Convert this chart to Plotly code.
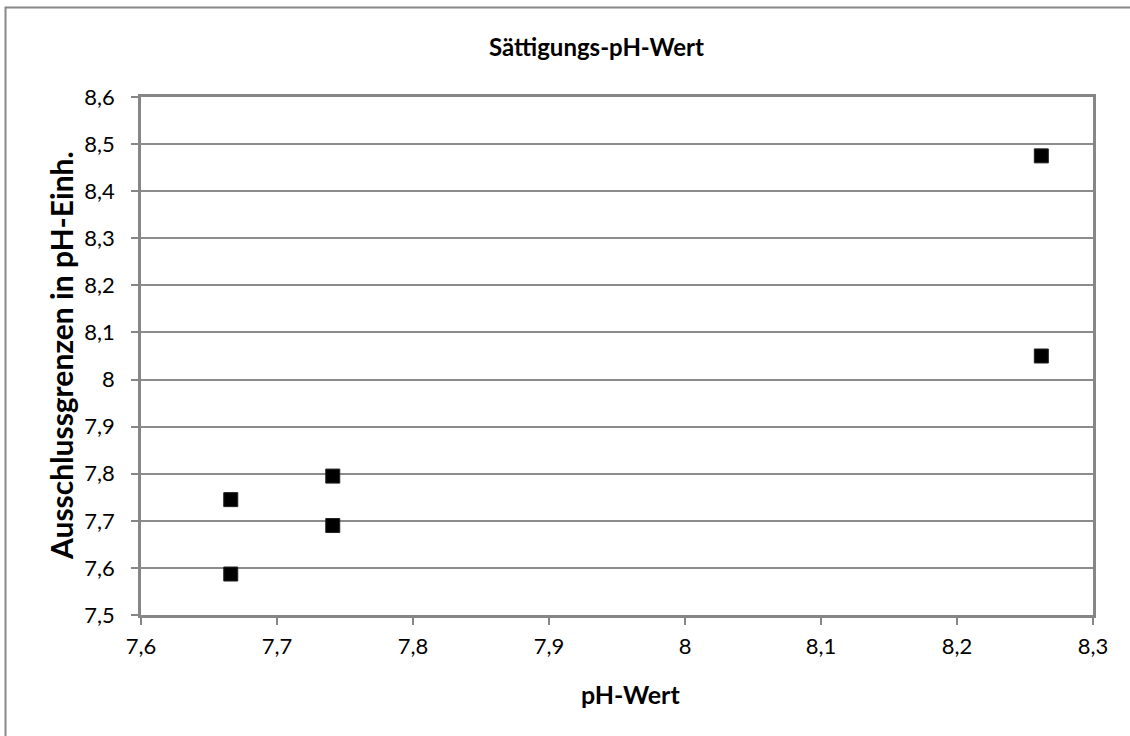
import plotly.graph_objects as go

# Data
ph_wert = [7.666, 7.666, 7.741, 7.741, 8.262, 8.262]
ausschlussgrenzen = [7.745, 7.587, 7.795, 7.690, 8.475, 8.050]

title_text = "Sättigungs-pH-Wert"
x_title = "pH-Wert"
y_title = "Ausschlussgrenzen in pH-Einh."

W, H = 1130, 736
# plot area in page pixels: left 141, right 1093, top 97, bottom 615
L, T = 141, 97
R = W - 1093
B = H - 615
FONT = "Lato, Carlito, Calibri, sans-serif"
AXIS_COL = "#868686"
GRID_COL = "#8c8c8c"

pw = W - L - R
ph = H - T - B


def px_x(page_x):
    return (page_x - L) / pw


def px_y(page_y):
    return (T + ph - page_y) / ph


fig = go.Figure()
fig.add_trace(go.Scatter(
    x=ph_wert, y=ausschlussgrenzen, mode="markers",
    marker=dict(symbol="square", size=14, color="black",
                line=dict(color="#222222", width=1)),
    showlegend=False, hoverinfo="x+y",
))

fig.update_layout(
    width=W, height=H,
    margin=dict(l=L, r=R, t=T, b=B, pad=0),
    paper_bgcolor="white", plot_bgcolor="white",
    separators=",.",
    font=dict(family=FONT, color="black", size=22),
    xaxis=dict(range=[7.6, 8.3], tick0=7.6, dtick=0.1, showgrid=False,
               zeroline=False, showline=True, linecolor=AXIS_COL, linewidth=2.5,
               mirror=True, ticks="outside", ticklen=7, tickwidth=1.5,
               tickcolor=AXIS_COL, ticklabelstandoff=3,
               tickfont=dict(family=FONT, size=22)),
    yaxis=dict(range=[7.5, 8.6], tick0=7.5, dtick=0.1, showgrid=True,
               gridcolor=GRID_COL, gridwidth=1.5, zeroline=False,
               showline=True, linecolor=AXIS_COL, linewidth=2.5, mirror=True,
               ticks="outside", ticklen=7, tickwidth=1.5, tickcolor=AXIS_COL,
               ticklabelstandoff=12,
               tickfont=dict(family=FONT, size=22)),
    annotations=[
        dict(text="<b>" + title_text + "</b>", xref="paper", yref="paper",
             x=px_x(596), y=px_y(47), xanchor="center", yanchor="middle",
             showarrow=False, font=dict(family=FONT, size=24, color="black")),
        dict(text="<b>" + x_title + "</b>", xref="paper", yref="paper",
             x=px_x(630), y=px_y(694), xanchor="center", yanchor="middle",
             showarrow=False, font=dict(family=FONT, size=25, color="black")),
        dict(text="<b>" + y_title + "</b>", xref="paper", yref="paper",
             x=px_x(61), y=px_y(356), xanchor="center", yanchor="middle",
             textangle=-90, showarrow=False,
             font=dict(family=FONT, size=30, color="black")),
    ],
    shapes=[
        dict(type="rect", xref="paper", yref="paper",
             x0=px_x(5.5), x1=px_x(1145), y0=px_y(750), y1=px_y(7.5),
             line=dict(color="#888888", width=2), fillcolor="rgba(0,0,0,0)",
             layer="below"),
    ],
)

fig.write_html(
    "out.html",
    config={"displayModeBar": False},
    post_script="document.body.style.margin='0px';document.body.style.overflow='hidden';",
)
